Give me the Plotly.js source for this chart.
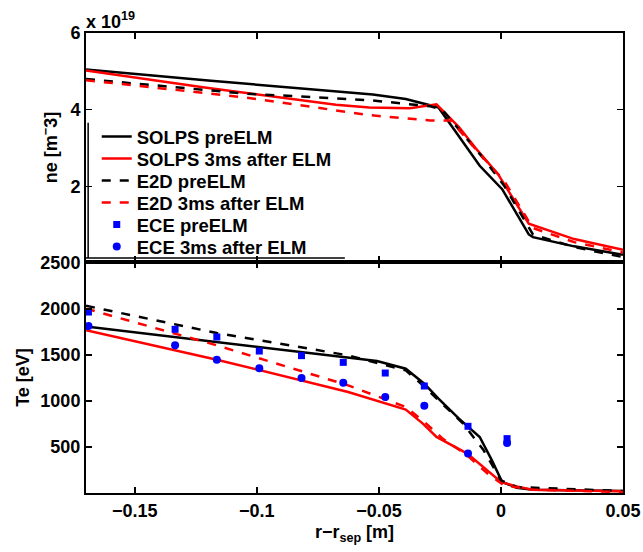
<!DOCTYPE html>
<html>
<head>
<meta charset="utf-8">
<script src="https://cdn.plot.ly/plotly-3.0.1.min.js"></script>
<style>html,body{margin:0;padding:0;background:#fff;}#chart{width:643px;height:552px;}</style>
</head>
<body>
<div id="chart"></div>
<script>
// ---- Data (ne in units of 1e19 m^-3, Te in eV, x = r - r_sep in m) ----
const solpsPreNeX  = [-0.17, -0.12, -0.0525, -0.039, -0.0256, -0.0087, 0.0005, 0.0114, 0.0131, 0.03, 0.05];
const solpsPreNe   = [5.05, 4.76, 4.40, 4.28, 4.06, 2.54, 1.93, 0.75, 0.68, 0.44, 0.22];
const solpsPostNeX = [-0.17, -0.1214, -0.0676, -0.054, -0.0373, -0.0264, -0.0172, -0.0096, -0.0012, 0.0114, 0.03, 0.05];
const solpsPostNe  = [5.02, 4.58, 4.13, 4.06, 4.04, 4.14, 3.55, 2.94, 2.32, 1.03, 0.63, 0.35];
const e2dPreNeX    = [-0.17, -0.1046, -0.054, -0.0289, -0.0239, -0.007, 0.0013, 0.0131, 0.03, 0.05];
const e2dPreNe     = [4.80, 4.42, 4.25, 4.09, 3.99, 2.72, 2.02, 0.75, 0.42, 0.16];
const e2dPostNeX   = [-0.17, -0.1046, -0.054, -0.029, -0.0205, -0.0087, 0.0013, 0.013, 0.03, 0.05];
const e2dPostNe    = [4.77, 4.32, 3.86, 3.72, 3.72, 2.85, 2.15, 0.92, 0.55, 0.28];

const solpsPreTeX  = [-0.17, -0.1164, -0.0508, -0.039, -0.0314, -0.0256, -0.0172, -0.0087, -0.0037, 0.0005, 0.0064, 0.013, 0.05];
const solpsPreTe   = [1810, 1638, 1435, 1351, 1188, 1025, 808, 609, 355, 120, 58, 36, 22];
const solpsPostTeX = [-0.17, -0.1164, -0.0626, -0.039, -0.032, -0.0264, -0.0138, -0.0071, 0, 0.0064, 0.013, 0.05];
const solpsPostTe  = [1768, 1449, 1098, 906, 754, 609, 428, 283, 120, 72, 36, 18];
const e2dPreTeX    = [-0.17, -0.1164, -0.0626, -0.039, -0.032, -0.0155, -0.0071, 0, 0.0064, 0.05];
const e2dPreTe     = [2035, 1739, 1496, 1333, 1170, 754, 464, 138, 65, 22];
const e2dPostTeX   = [-0.17, -0.1164, -0.0626, -0.039, -0.0306, -0.0239, -0.0138, -0.0054, 0.0013, 0.013, 0.05];
const e2dPostTe    = [2004, 1605, 1170, 935, 754, 591, 409, 210, 83, 36, 11];

const eceX         = [-0.169, -0.1335, -0.1164, -0.099, -0.0817, -0.0646, -0.0474, -0.0314, -0.0135, 0.0025];
const ecePreTe     = [1967, 1779, 1696, 1543, 1493, 1420, 1304, 1163, 725, 591];
const ecePostTe    = [1815, 1605, 1449, 1355, 1250, 1199, 1043, 949, 428, 543];

const xTicks  = [-0.15, -0.1, -0.05, 0, 0.05];
const neTicks = [2, 4, 6];
const teTicks = [500, 1000, 1500, 2000, 2500];

const legendNames = ['SOLPS preELM', 'SOLPS 3ms after ELM', 'E2D preELM', 'E2D 3ms after ELM', 'ECE preELM', 'ECE 3ms after ELM'];

// ---- Traces ----
const LW = 2.5;
const traces = [
  // top panel (ne)
  {x: solpsPreNeX, y: solpsPreNe, xaxis: 'x2', yaxis: 'y2', mode: 'lines', line: {color: '#000', width: LW}, name: legendNames[0], legend: 'legend'},
  {x: solpsPostNeX, y: solpsPostNe, xaxis: 'x2', yaxis: 'y2', mode: 'lines', line: {color: '#ff0000', width: LW}, name: legendNames[1], legend: 'legend2'},
  {x: e2dPreNeX, y: e2dPreNe, xaxis: 'x2', yaxis: 'y2', mode: 'lines', line: {color: '#000', width: LW, dash: 'dash'}, name: legendNames[2], legend: 'legend3'},
  {x: e2dPostNeX, y: e2dPostNe, xaxis: 'x2', yaxis: 'y2', mode: 'lines', line: {color: '#ff0000', width: LW, dash: 'dash'}, name: legendNames[3], legend: 'legend4'},
  // bottom panel (Te)
  {x: solpsPreTeX, y: solpsPreTe, mode: 'lines', line: {color: '#000', width: LW}, showlegend: false},
  {x: solpsPostTeX, y: solpsPostTe, mode: 'lines', line: {color: '#ff0000', width: LW}, showlegend: false},
  {x: e2dPreTeX, y: e2dPreTe, mode: 'lines', line: {color: '#000', width: LW, dash: 'dash'}, showlegend: false},
  {x: e2dPostTeX, y: e2dPostTe, mode: 'lines', line: {color: '#ff0000', width: LW, dash: 'dash'}, showlegend: false},
  {x: eceX, y: ecePreTe, mode: 'markers', marker: {symbol: 'square', color: '#0000ff', size: 7}, name: legendNames[4], legend: 'legend5'},
  {x: eceX, y: ecePostTe, mode: 'markers', marker: {symbol: 'circle', color: '#0000ff', size: 8}, name: legendNames[5], legend: 'legend6'}
];

const FAMILY = '"Liberation Sans", Arial, sans-serif';
const FONT = {family: FAMILY, size: 18, color: '#000', weight: 'bold'};
const axisCommon = {
  showgrid: false, zeroline: false, showline: true, linecolor: '#000', linewidth: 2,
  mirror: 'ticks', ticks: 'inside', ticklen: 6, tickwidth: 1.5, tickcolor: '#000',
  tickfont: FONT
};

// plot area: top 33px, height 460px
const rowPx = [137, 159, 181, 203, 225, 247];
function legendAt(py) {
  return {
    x: 0.02, xanchor: 'left', y: 1 - (py - 33) / 460, yanchor: 'middle',
    bgcolor: 'rgba(0,0,0,0)', borderwidth: 0, itemwidth: 30,
    font: {family: FAMILY, size: 18.5, color: '#000', weight: 'bold'}
  };
}

const layout = {
  width: 643, height: 552,
  margin: {l: 86, r: 20, t: 33, b: 59},
  paper_bgcolor: '#fff', plot_bgcolor: '#fff',
  font: FONT,
  showlegend: true,
  legend: legendAt(rowPx[0]),
  legend2: legendAt(rowPx[1]),
  legend3: legendAt(rowPx[2]),
  legend4: legendAt(rowPx[3]),
  legend5: legendAt(rowPx[4]),
  legend6: legendAt(rowPx[5]),
  xaxis: Object.assign({}, axisCommon, {
    domain: [0, 1], range: [-0.17, 0.05], anchor: 'y',
    tickvals: xTicks,
    title: {text: 'r\u2212r<sub>sep</sub> [m]', font: FONT, standoff: 6}
  }),
  yaxis: Object.assign({}, axisCommon, {
    domain: [0, 0.502], range: [0, 2510], anchor: 'x',
    tickvals: teTicks,
    title: {text: 'Te [eV]', font: FONT, standoff: 6}
  }),
  xaxis2: Object.assign({}, axisCommon, {
    domain: [0, 1], range: [-0.17, 0.05], anchor: 'y2', matches: 'x',
    tickvals: xTicks, showticklabels: false
  }),
  yaxis2: Object.assign({}, axisCommon, {
    domain: [0.502, 1], range: [0.03, 6], anchor: 'x2',
    tickvals: neTicks,
    title: {text: 'ne [m<sup>\u2212</sup>3]', font: FONT, standoff: 8}
  }),
  annotations: [
    {xref: 'paper', yref: 'paper', x: -0.003, y: 0.998, xanchor: 'left', yanchor: 'bottom',
     text: 'x 10<sup>19</sup>', showarrow: false, font: FONT}
  ],
  shapes: [
    {type: 'line', xref: 'paper', yref: 'paper', x0: 0, x1: 0.482, y0: 0.511, y1: 0.511, line: {color: '#000', width: 1.5}},
    {type: 'line', xref: 'paper', yref: 'paper', x0: 0.004, x1: 0.004, y0: 0.511, y1: 0.805, line: {color: '#000', width: 1.5}}
  ]
};

Plotly.newPlot('chart', traces, layout, {displayModeBar: false, staticPlot: true});
</script>
</body>
</html>
